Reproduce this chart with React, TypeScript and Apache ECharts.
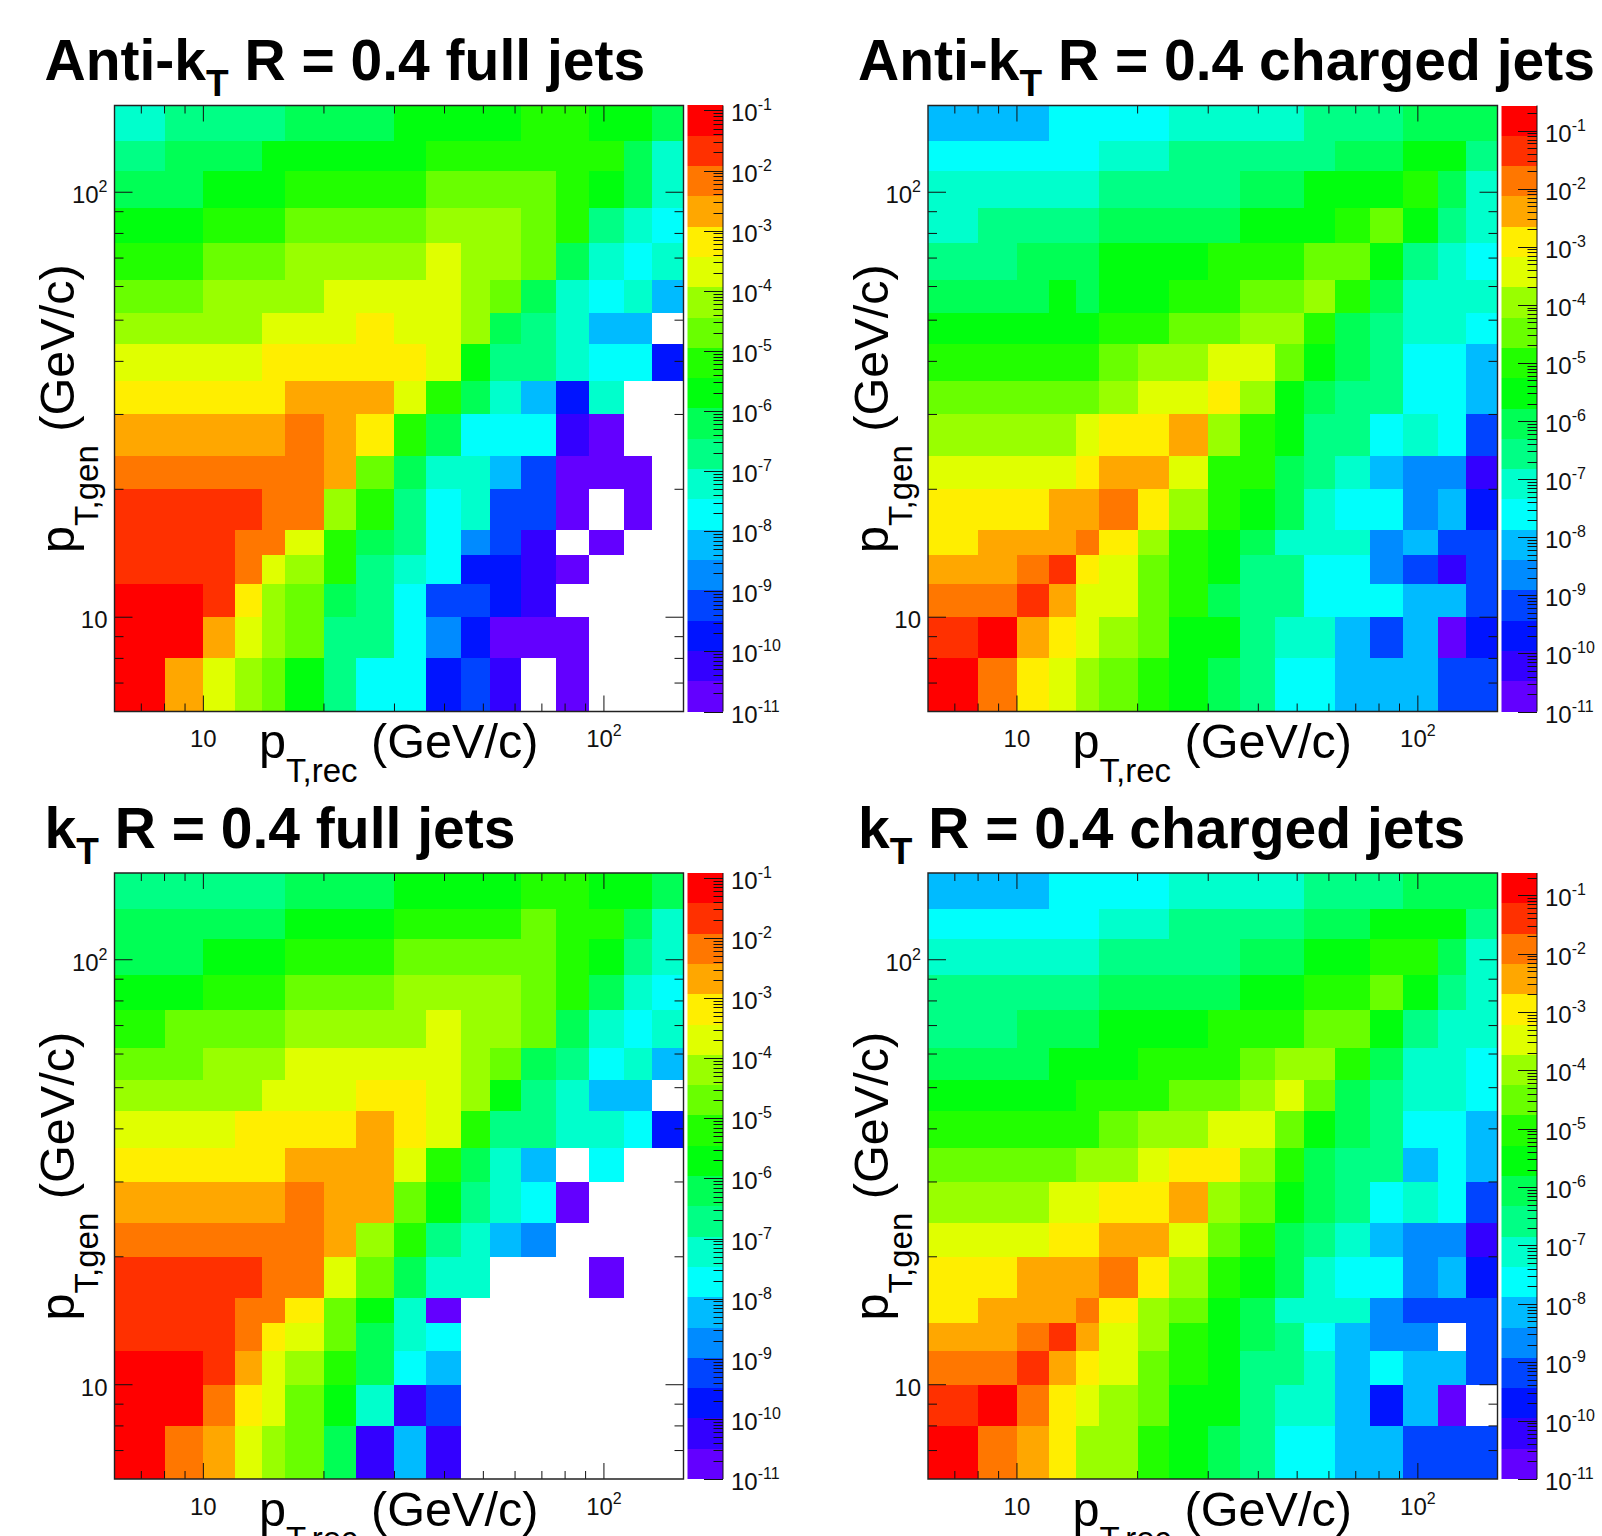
import React, { useEffect, useRef } from "react";
import * as echarts from "echarts";

const recEdges = [6, 8, 10, 12, 14, 16, 20, 24, 30, 36, 44, 52, 62, 76, 92, 112, 132, 158];
const genEdges = [6, 8, 10, 12, 14, 16, 20, 24, 30, 36, 44, 52, 62, 76, 92, 112, 132, 160];
const axisMinorTicks = [7, 8, 9, 20, 30, 40, 50, 60, 70, 80, 90];
const axisMajorTicks = [10, 100];
const palette = ["#6300ff","#3300ff","#0014ff","#0044ff","#008bff","#00bbff","#00fffc","#00ffcc","#00ff85","#00ff55","#00ff0e","#22ff00","#69ff00","#99ff00","#e0ff00","#ffee00","#ffa700","#ff7700","#ff3000","#ff0000"];
const _ = null;

// Rows run from the lowest pT,gen bin to the highest; each value is the colour band (0..19) of the cell.
const antiKtFull = [
  [19,16,14,13,12,10,8,6,6,2,3,1,_,0,_,_,_],
  [19,19,16,14,13,12,8,8,6,4,2,0,0,0,_,_,_],
  [19,19,18,15,13,12,9,8,6,3,3,2,1,_,_,_,_],
  [18,18,18,17,14,13,11,8,7,6,2,2,1,0,_,_,_],
  [18,18,18,17,17,14,11,9,8,6,4,3,1,_,0,_,_],
  [18,18,18,18,17,17,13,11,8,6,7,3,3,0,_,0,_],
  [17,17,17,17,17,17,16,12,9,7,7,5,3,0,0,0,_],
  [16,16,16,16,16,17,16,15,11,9,6,6,6,1,0,_,_],
  [15,15,15,15,15,16,16,16,14,11,9,7,5,2,7,_,_],
  [14,14,14,14,15,15,15,15,15,14,10,8,8,7,6,6,2],
  [13,13,13,13,14,14,14,15,14,14,13,9,8,7,5,5,_],
  [12,12,13,13,13,13,14,14,14,14,13,12,9,7,6,7,5],
  [11,11,12,12,12,13,13,13,13,14,13,13,12,9,7,6,7],
  [10,10,11,11,11,12,12,12,12,13,13,13,12,11,8,7,6],
  [9,9,10,10,10,11,11,11,11,12,12,12,12,11,10,9,7],
  [8,9,9,9,10,10,10,10,10,11,11,11,11,11,11,9,7],
  [7,8,8,8,8,9,9,9,10,10,10,10,11,11,10,10,9],
];
const antiKtCharged = [
  [19,17,15,14,13,12,11,10,9,8,6,6,5,5,5,3,3],
  [18,19,16,15,14,13,12,10,10,8,7,7,5,3,5,0,2],
  [17,17,18,16,14,14,12,11,9,8,8,6,6,6,5,5,3],
  [16,16,17,18,15,14,12,11,10,8,8,6,6,4,3,1,3],
  [15,16,16,16,17,15,13,11,10,9,7,7,7,4,5,3,3],
  [15,15,15,16,16,17,15,13,11,10,9,7,6,6,4,5,2],
  [14,14,14,14,15,16,16,14,11,11,9,8,7,5,4,4,1],
  [13,13,13,13,14,15,15,16,13,11,10,8,8,6,7,6,3],
  [12,12,12,12,12,13,14,14,15,13,10,9,8,8,6,6,5],
  [11,11,11,11,11,12,13,13,14,14,12,10,9,8,6,6,5],
  [10,10,10,10,10,11,11,12,12,13,13,11,9,8,7,7,6],
  [9,9,9,10,9,10,10,11,11,12,12,13,11,9,7,7,7],
  [8,8,9,9,9,10,10,10,11,11,11,12,12,10,8,7,6],
  [7,8,8,8,8,9,9,9,9,10,10,10,11,12,10,8,7],
  [7,7,7,7,7,8,8,8,8,9,9,10,10,10,11,9,7],
  [6,6,6,6,6,7,7,8,8,8,8,8,9,9,10,10,8],
  [5,5,5,6,6,6,6,7,7,7,7,8,8,8,9,9,9],
];
const ktFull = [
  [19,17,16,14,13,12,9,1,5,1,_,_,_,_,_,_,_],
  [19,19,17,15,14,12,10,7,1,3,_,_,_,_,_,_,_],
  [19,19,18,16,14,13,11,9,6,5,_,_,_,_,_,_,_],
  [18,18,18,17,15,14,12,9,7,6,_,_,_,_,_,_,_],
  [18,18,18,17,17,15,12,10,7,0,_,_,_,_,_,_,_],
  [18,18,18,18,17,17,14,12,9,7,7,_,_,_,0,_,_],
  [17,17,17,17,17,17,16,13,11,8,7,5,4,_,_,_,_],
  [16,16,16,16,16,17,16,16,12,10,8,7,6,0,_,_,_],
  [15,15,15,15,15,16,16,16,14,11,9,7,5,_,6,_,_],
  [14,14,14,15,15,15,15,16,15,14,11,8,8,7,7,6,2],
  [13,13,13,13,14,14,14,15,15,14,13,10,8,7,5,5,_],
  [12,12,13,13,13,14,14,14,14,14,13,12,9,8,6,7,5],
  [11,12,12,12,12,13,13,13,13,14,13,13,12,9,7,6,7],
  [10,10,11,11,11,12,12,12,13,13,13,13,12,11,9,7,6],
  [9,9,10,10,10,11,11,11,12,12,12,12,12,11,10,8,7],
  [9,9,9,9,9,10,10,10,11,11,11,11,12,11,11,9,7],
  [8,8,8,8,8,9,9,9,10,10,10,10,11,11,10,10,9],
];
const ktCharged = [
  [19,17,16,15,13,13,11,10,9,8,6,6,5,5,3,3,3],
  [18,19,17,15,14,13,12,10,10,8,7,7,5,2,5,0,_],
  [17,17,18,16,15,14,12,11,10,8,8,7,5,6,5,5,3],
  [16,16,17,18,16,14,13,11,10,9,8,6,5,4,4,_,3],
  [15,16,16,16,17,15,13,12,10,9,7,7,7,4,3,3,3],
  [15,15,16,16,16,17,15,13,11,10,9,7,6,6,4,5,2],
  [14,14,14,15,15,16,16,14,12,11,9,8,7,5,4,4,1],
  [13,13,13,14,14,15,15,16,13,12,10,9,8,6,7,6,3],
  [12,12,12,12,13,13,14,15,15,13,11,9,8,8,5,6,5],
  [11,11,11,11,11,12,13,13,14,14,12,10,9,8,6,6,5],
  [10,10,10,10,11,11,11,12,12,13,14,12,9,8,7,7,6],
  [9,9,9,10,10,10,11,11,11,12,13,13,11,9,7,7,6],
  [8,8,9,9,9,10,10,10,11,11,11,12,12,10,8,7,7],
  [8,8,8,8,8,9,9,9,9,10,10,11,11,12,10,8,7],
  [7,7,7,7,7,8,8,8,8,9,9,10,10,11,11,9,7],
  [6,6,6,6,6,7,7,8,8,8,8,9,9,10,10,10,8],
  [5,5,5,6,6,6,6,7,7,7,7,8,8,8,9,9,9],
];

const titles = [
  ["Anti-k", " R = 0.4 full jets"],
  ["Anti-k", " R = 0.4 charged jets"],
  ["k", " R = 0.4 full jets"],
  ["k", " R = 0.4 charged jets"],
];
const panelCells = [antiKtFull, antiKtCharged, ktFull, ktCharged];
const panelZMax = [0.121, 0.27, 0.121, 0.24];
const zMinExp = -11;
const bandCount = 20;
const panelBox = [
  { left: 114.5, top: 105.5, right: 683.5, bottom: 711.5 },
  { left: 928, top: 105.5, right: 1497.5, bottom: 711.5 },
  { left: 114.5, top: 873, right: 683.5, bottom: 1479 },
  { left: 928, top: 873, right: 1497.5, bottom: 1479 },
];
const barOffset = 4;
const barWidth = 35.5;

const FONT = "'Liberation Sans', Helvetica, Arial, sans-serif";
const INK = "#111";

function subText(x: number, y: number, main1: string, sub: string, main2: string, size: number, subSize: number, drop: number, bold: boolean, rotated = false) {
  const h = Math.round(size * 1.16);
  return {
    type: "text",
    x,
    y,
    z: 20,
    rotation: rotated ? Math.PI / 2 : 0,
    silent: true,
    style: {
      text: `{a|${main1}}{s|${sub}}{a|${main2}}`,
      fontFamily: FONT,
      align: "left",
      verticalAlign: "top",
      rich: {
        a: { fontFamily: FONT, fontSize: size, fontWeight: bold ? "bold" : "normal", fill: "#000", lineHeight: h, height: h, verticalAlign: "top" },
        s: { fontFamily: FONT, fontSize: subSize, fontWeight: bold ? "bold" : "normal", fill: "#000", lineHeight: h + drop, height: subSize, verticalAlign: "bottom" },
      },
    },
  };
}

const tickRich = {
  n: { fontFamily: FONT, fontSize: 24, color: INK, lineHeight: 32, height: 32, verticalAlign: "bottom" },
  p: { fontFamily: FONT, fontSize: 16, color: INK, lineHeight: 16, height: 16, verticalAlign: "top" },
};

function powerLabel(v: number) {
  const e = Math.log10(v);
  const r = Math.round(e);
  if (Math.abs(e - r) > 1e-6) return "";
  return r === 1 ? "{n|10}" : `{n|10}{p|${r}}`;
}
function expLabel(e: number) {
  const r = Math.round(e);
  if (Math.abs(e - r) > 1e-6) return "";
  return `{n|10}{p|${r}}`;
}

function line(x1: number, y1: number, x2: number, y2: number) {
  return { type: "line", silent: true, z: 20, shape: { x1, y1, x2, y2 }, style: { stroke: INK, lineWidth: 1, fill: "none" } };
}

function buildOption() {
  const grid: any[] = [], xAxis: any[] = [], yAxis: any[] = [], series: any[] = [], graphic: any[] = [];
  panelBox.forEach((b, p) => {
    const gi = p * 2, bi = p * 2 + 1;
    const rows = panelCells[p];
    const lo = recEdges[0], hiX = recEdges[recEdges.length - 1], hiY = genEdges[genEdges.length - 1];
    grid.push({ left: b.left, top: b.top, width: b.right - b.left, height: b.bottom - b.top });
    xAxis.push({
      type: "log", logBase: 10, gridIndex: gi, min: lo, max: hiX,
      axisLine: { show: false }, axisTick: { show: false }, splitLine: { show: false }, minorTick: { show: false },
      axisLabel: { show: true, margin: 11, formatter: powerLabel, rich: tickRich, hideOverlap: false, showMinLabel: true, showMaxLabel: true },
    });
    yAxis.push({
      type: "log", logBase: 10, gridIndex: gi, min: lo, max: hiY,
      axisLine: { show: false }, axisTick: { show: false }, splitLine: { show: false }, minorTick: { show: false },
      axisLabel: { show: true, margin: 7, padding: [5, 0, 0, 0], formatter: powerLabel, rich: tickRich, hideOverlap: false, showMinLabel: true, showMaxLabel: true },
    });

    const cells: number[][] = [];
    rows.forEach((row, r) => row.forEach((lvl, c) => {
      if (lvl !== null) cells.push([recEdges[c], recEdges[c + 1], genEdges[r], genEdges[r + 1], lvl as number]);
    }));
    series.push({
      type: "custom", xAxisIndex: gi, yAxisIndex: gi, z: 2, silent: true, clip: false,
      encode: { x: [0, 1], y: [2, 3] }, data: cells,
      renderItem: (_p: any, api: any) => {
        const a = api.coord([api.value(0), api.value(2)]);
        const c = api.coord([api.value(1), api.value(3)]);
        const x = Math.round(a[0]), y = Math.round(c[1]);
        return { type: "rect", silent: true, shape: { x, y, width: Math.round(c[0]) - x, height: Math.round(a[1]) - y }, style: { fill: palette[api.value(4)], stroke: null } };
      },
    });

    const tickData: number[][] = [];
    axisMinorTicks.forEach((v) => { tickData.push([v, lo, 0, 8]); tickData.push([lo, v, 1, 9]); });
    axisMajorTicks.forEach((v) => { tickData.push([v, lo, 0, 16]); tickData.push([lo, v, 1, 18]); });
    tickData.push([lo, lo, 2, 0]);
    series.push({
      type: "custom", xAxisIndex: gi, yAxisIndex: gi, z: 5, silent: true, clip: false,
      encode: { x: 0, y: 1 }, data: tickData,
      renderItem: (_p: any, api: any) => {
        const kind = api.value(2), len = api.value(3);
        if (kind === 0) {
          const a = api.coord([api.value(0), lo]), c = api.coord([api.value(0), hiY]);
          return { type: "group", children: [line(a[0], a[1], a[0], a[1] - len), line(c[0], c[1], c[0], c[1] + len)] };
        }
        if (kind === 1) {
          const a = api.coord([lo, api.value(1)]), c = api.coord([hiX, api.value(1)]);
          return { type: "group", children: [line(a[0], a[1], a[0] + len, a[1]), line(c[0], c[1], c[0] - len, c[1])] };
        }
        const a = api.coord([lo, lo]), c = api.coord([hiX, hiY]);
        return { type: "rect", silent: true, shape: { x: a[0], y: c[1], width: c[0] - a[0], height: a[1] - c[1] }, style: { fill: "none", stroke: "#222", lineWidth: 1.4 } };
      },
    });

    // colour scale, on an axis of decimal exponents
    const zMaxExp = Math.log10(panelZMax[p]);
    grid.push({ left: b.right + barOffset, top: b.top, width: barWidth, height: b.bottom - b.top });
    xAxis.push({ type: "value", gridIndex: bi, min: 0, max: 1, show: false });
    yAxis.push({
      type: "value", gridIndex: bi, position: "right", min: zMinExp, max: zMaxExp, interval: 1,
      axisLine: { show: false }, axisTick: { show: false }, splitLine: { show: false }, minorTick: { show: false },
      axisLabel: { show: true, margin: 8, align: "left", padding: [5, 0, 0, 0], formatter: expLabel, rich: tickRich, hideOverlap: false, showMaxLabel: true, showMinLabel: true },
    });
    const bands = palette.map((_c, i) => [0, 1,
      zMinExp + (i * (zMaxExp - zMinExp)) / bandCount,
      zMinExp + ((i + 1) * (zMaxExp - zMinExp)) / bandCount, i]);
    series.push({
      type: "custom", xAxisIndex: bi, yAxisIndex: bi, z: 2, silent: true, clip: false,
      encode: { x: [0, 1], y: [2, 3] }, data: bands,
      renderItem: (_p: any, api: any) => {
        const a = api.coord([0, api.value(2)]);
        const c = api.coord([1, api.value(3)]);
        const y = Math.round(c[1]);
        return { type: "rect", silent: true, shape: { x: a[0], y, width: c[0] - a[0], height: Math.round(a[1]) - y }, style: { fill: palette[api.value(4)], stroke: null } };
      },
    });
    const barTicks: number[][] = [];
    for (let e = zMinExp; e <= 0; e++) {
      for (let m = 1; m <= 9; m++) {
        const v = e + Math.log10(m);
        if (v <= zMaxExp) barTicks.push([1, v, m === 1 ? 19 : 9.5]);
      }
    }
    series.push({
      type: "custom", xAxisIndex: bi, yAxisIndex: bi, z: 5, silent: true, clip: false,
      encode: { x: 0, y: 1 }, data: barTicks,
      renderItem: (_p: any, api: any) => {
        const a = api.coord([1, api.value(1)]);
        const y = Math.round(a[1]) + 0.5;
        return line(a[0], y, a[0] - api.value(2), y);
      },
    });
    graphic.push(line(b.right + barOffset + barWidth, b.top, b.right + barOffset + barWidth, b.bottom));

    // texts
    const ox = b.left - 114.5, oy = b.top - 105.5;
    graphic.push(subText(44.5 + ox, 27 + oy, titles[p][0], "T", titles[p][1], 57, 37, 9, true));
    graphic.push(subText(259 + ox, 713 + oy, "p", "T,rec", " (GeV/c)", 48.6, 33, 18, false));
    graphic.push(subText(29 + ox, 553 + oy, "p", "T,gen", " (GeV/c)", 48.6, 33, 18, false, true));
  });
  return { animation: false, backgroundColor: "#fff", grid, xAxis, yAxis, series, graphic: { elements: graphic } };
}

export default function App() {
  const ref = useRef<HTMLDivElement>(null);
  useEffect(() => {
    document.body.style.margin = "0";
    document.body.style.overflow = "hidden";
    const chart = echarts.init(ref.current!, undefined, { renderer: "svg" });
    chart.setOption(buildOption() as any);
    return () => chart.dispose();
  }, []);
  return <div ref={ref} style={{ width: 1602, height: 1536, position: "absolute", left: 0, top: 0, overflow: "hidden" }} />;
}
